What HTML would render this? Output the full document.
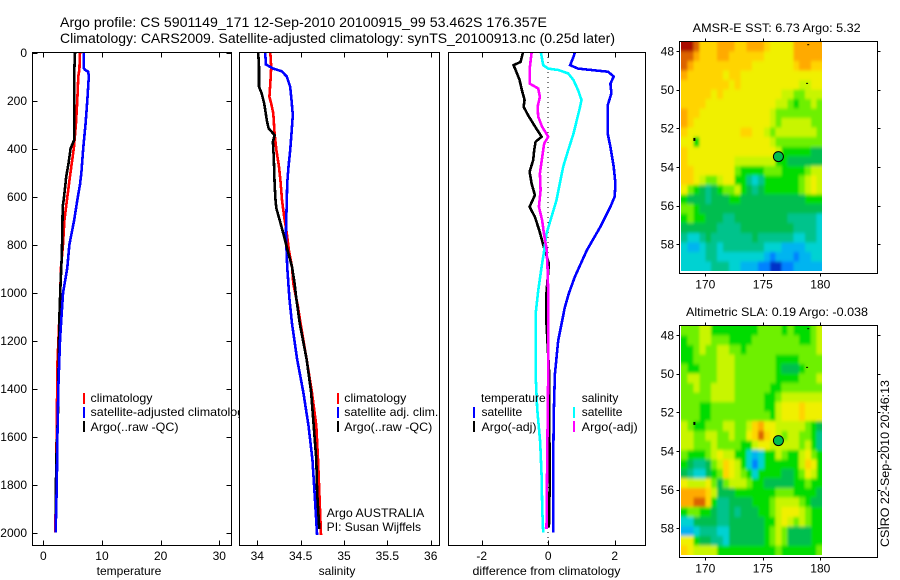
<!DOCTYPE html>
<html>
<head>
<meta charset="utf-8">
<title>Argo profile</title>
<style>
html,body{margin:0;padding:0;background:#fff;width:900px;height:580px;overflow:hidden}
svg{display:block}
text{font-family:"Liberation Sans",sans-serif;font-size:12px;fill:#000}
</style>
</head>
<body>
<svg id="fig" xmlns="http://www.w3.org/2000/svg" width="900" height="580" viewBox="0 0 900 580">
<defs>
<filter id="map-soften" x="-10%" y="-10%" width="120%" height="120%"><feGaussianBlur stdDeviation="1.2 1.6"/></filter>
<clipPath id="sst-clip"><rect x="681" y="42" width="141" height="229"/></clipPath>
<clipPath id="sla-clip"><rect x="681" y="326" width="141" height="229"/></clipPath>
</defs>
<rect x="0" y="0" width="900" height="580" fill="#fff"/>
<text x="60" y="27" style="font-size:14px" textLength="487" lengthAdjust="spacingAndGlyphs">Argo profile: CS 5901149_171 12-Sep-2010 20100915_99 53.462S 176.357E</text>
<text x="60" y="43" style="font-size:14px" textLength="555" lengthAdjust="spacingAndGlyphs">Climatology: CARS2009. Satellite-adjusted climatology: synTS_20100913.nc (0.25d later)</text>

<g id="panel-temp">
<g id="temp-marks"></g>
<g>
<rect x="83" y="393" width="2" height="11" fill="#f00"/>
<rect x="83" y="407" width="2" height="11" fill="#00f"/>
<rect x="83" y="421" width="2" height="11" fill="#000"/>
<text x="90.5" y="402" textLength="62" lengthAdjust="spacingAndGlyphs">climatology</text>
<text x="90.5" y="416" textLength="160" lengthAdjust="spacingAndGlyphs">satellite-adjusted climatology</text>
<text x="90.5" y="431" textLength="88" lengthAdjust="spacingAndGlyphs">Argo(..raw -QC)</text>
</g>
<text x="129" y="575" text-anchor="middle">temperature</text>
</g>

<g id="panel-sal">
<rect x="239" y="50" width="202" height="498" fill="#fff"/>
<g id="sal-marks"></g>
<g>
<rect x="337" y="393" width="2" height="11" fill="#f00"/>
<rect x="337" y="407" width="2" height="11" fill="#00f"/>
<rect x="337" y="421" width="2" height="11" fill="#000"/>
<text x="344.3" y="402" textLength="62" lengthAdjust="spacingAndGlyphs">climatology</text>
<text x="344.3" y="416" textLength="94" lengthAdjust="spacingAndGlyphs">satellite adj. clim.</text>
<text x="344.3" y="431" textLength="88" lengthAdjust="spacingAndGlyphs">Argo(..raw -QC)</text>
</g>
<text x="326.7" y="517" textLength="97.6" lengthAdjust="spacingAndGlyphs">Argo AUSTRALIA</text>
<text x="326.7" y="531" textLength="94.3" lengthAdjust="spacingAndGlyphs">PI: Susan Wijffels</text>
<text x="337" y="575" text-anchor="middle">salinity</text>
</g>

<g id="panel-diff">
<g id="diff-marks"></g>
<g>
<rect x="473" y="407" width="2" height="11" fill="#00f"/>
<rect x="473" y="421" width="2" height="11" fill="#000"/>
<rect x="573" y="407" width="2" height="11" fill="#0ff"/>
<rect x="573" y="421" width="2" height="11" fill="#f0f"/>
<text x="481" y="402">temperature</text>
<text x="481.5" y="416">satellite</text>
<text x="481.5" y="431" textLength="55" lengthAdjust="spacingAndGlyphs">Argo(-adj)</text>
<text x="581.7" y="402">salinity</text>
<text x="581.7" y="416">satellite</text>
<text x="581.7" y="431" textLength="56" lengthAdjust="spacingAndGlyphs">Argo(-adj)</text>
</g>
<text x="546.5" y="575" text-anchor="middle" textLength="148" lengthAdjust="spacingAndGlyphs">difference from climatology</text>
</g>

<g id="panel-sst">
<text x="776.7" y="32" text-anchor="middle" textLength="168" lengthAdjust="spacingAndGlyphs">AMSR-E SST: 6.73 Argo: 5.32</text>
<g clip-path="url(#sst-clip)"><g id="sst-cells" filter="url(#map-soften)"></g></g>
</g>
<g id="panel-sla">
<text x="777" y="316" text-anchor="middle" textLength="182" lengthAdjust="spacingAndGlyphs">Altimetric SLA: 0.19 Argo: -0.038</text>
<g clip-path="url(#sla-clip)"><g id="sla-cells" filter="url(#map-soften)"></g></g>
</g>
<text transform="translate(889,547) rotate(-90)" textLength="167" lengthAdjust="spacingAndGlyphs">CSIRO 22-Sep-2010 20:46:13</text>
</svg>

<script>
// ---- tick labels ----
const depthTicks = [0, 200, 400, 600, 800, 1000, 1200, 1400, 1600, 1800, 2000];
const tempTicks = [0, 10, 20, 30];
const salTicks = [34, 34.5, 35, 35.5, 36];
const diffTicks = [-2, 0, 2];
const lonTicks = [170, 175, 180];
const latTicks = [48, 50, 52, 54, 56, 58];

// ---- temperature profiles ----
const tempClimDepth = [0, 70, 100, 200, 300, 400, 500, 600, 700, 800, 900, 1000, 1100, 1300, 1550, 2000];
const tempClimValues = [6.25, 6.15, 5.97, 5.8, 5.55, 5.2, 4.63, 4.1, 3.6, 3.35, 3.0, 2.9, 2.75, 2.4, 2.3, 2.05];
const tempSatDepth = [0, 65, 72, 80, 100, 200, 300, 400, 500, 550, 600, 700, 800, 900, 1000, 1100, 1200, 1400, 1600, 1800, 2000];
const tempSatValues = [6.9, 6.9, 7.1, 7.65, 7.75, 7.5, 7.2, 6.8, 6.5, 6.25, 5.9, 5.25, 4.45, 4.07, 3.38, 3.1, 2.85, 2.56, 2.4, 2.3, 2.1];
const tempArgoDepth = [0, 100, 365, 400, 462, 518, 600, 643, 837, 990, 1100, 1300, 1500, 1700, 1900, 2000];
const tempArgoValues = [5.4, 5.25, 5.25, 4.66, 4.3, 3.9, 3.55, 3.3, 3.17, 2.9, 2.75, 2.6, 2.5, 2.22, 2.1, 2.1];

// ---- salinity profiles ----
const salClimDepth = [0, 60, 130, 185, 212, 254, 338, 407, 476, 546, 615, 685, 754, 824, 893, 962, 1060, 1130, 1280, 1415, 1555, 1695, 1830, 2010];
const salClimValues = [34.15, 34.16, 34.15, 34.14, 34.16, 34.185, 34.2, 34.22, 34.25, 34.27, 34.285, 34.31, 34.34, 34.365, 34.4, 34.415, 34.47, 34.5, 34.57, 34.63, 34.68, 34.7, 34.715, 34.735];
const salSatDepth = [0, 50, 67, 78, 100, 143, 198, 260, 338, 407, 476, 546, 615, 754, 893, 1025, 1130, 1280, 1415, 1555, 1695, 1830, 2010];
const salSatValues = [34.09, 34.1, 34.185, 34.28, 34.34, 34.38, 34.395, 34.41, 34.395, 34.38, 34.36, 34.345, 34.34, 34.33, 34.345, 34.37, 34.4, 34.46, 34.53, 34.59, 34.635, 34.66, 34.69];
const salArgoDepth = [0, 60, 143, 170, 212, 282, 316, 344, 372, 440, 545, 615, 650, 700, 768, 824, 893, 962, 1025, 1130, 1280, 1415, 1555, 1695, 1830, 1985];
const salArgoValues = [34.01, 34.02, 34.02, 34.05, 34.08, 34.11, 34.13, 34.2, 34.18, 34.19, 34.2, 34.21, 34.22, 34.26, 34.31, 34.35, 34.4, 34.43, 34.45, 34.49, 34.57, 34.62, 34.65, 34.68, 34.69, 34.715];

// ---- difference profiles ----
const diffTempSatDepth = [0, 18, 53, 67, 76, 80, 100, 130, 170, 220, 338, 393, 476, 546, 600, 643, 726, 824, 935, 1004, 1062, 1200, 1340, 1485, 1695, 2000];
const diffTempSatValues = [0.8, 0.76, 0.66, 0.9, 1.5, 1.8, 1.97, 1.87, 1.9, 1.79, 1.79, 1.87, 1.97, 2.02, 2.0, 1.87, 1.57, 1.16, 0.8, 0.62, 0.5, 0.3, 0.2, 0.17, 0.15, 0.15];
const diffTempArgoDepth = [0, 39, 53, 80, 115, 157, 198, 226, 260, 303, 351, 372, 407, 448, 497, 546, 594, 643, 685, 740, 816, 879, 1000, 1130, 1340, 1555, 1750, 1980];
const diffTempArgoValues = [-0.76, -0.83, -1.04, -0.96, -0.86, -0.79, -0.71, -0.74, -0.61, -0.42, -0.2, -0.38, -0.42, -0.45, -0.56, -0.5, -0.4, -0.56, -0.4, -0.27, -0.12, 0.02, -0.05, -0.05, 0.03, 0.03, 0.05, 0.02];
const diffSalSatDepth = [0, 53, 67, 73, 87, 115, 157, 198, 226, 260, 338, 407, 476, 546, 615, 685, 754, 824, 893, 993, 1090, 1340, 1485, 1625, 1765, 1900, 2000];
const diffSalSatValues = [-0.22, -0.15, 0, 0.3, 0.6, 0.76, 0.9, 1.0, 0.96, 0.9, 0.76, 0.6, 0.45, 0.35, 0.25, 0.1, -0.05, -0.12, -0.2, -0.3, -0.38, -0.38, -0.33, -0.24, -0.2, -0.18, -0.15];
const diffSalArgoDepth = [0, 60, 130, 150, 185, 226, 268, 310, 351, 379, 435, 504, 574, 643, 700, 754, 816, 893, 1000, 1340, 1695, 1985];
const diffSalArgoValues = [-0.5, -0.55, -0.55, -0.3, -0.25, -0.32, -0.3, -0.18, 0, -0.12, -0.18, -0.25, -0.23, -0.28, -0.18, -0.13, -0.05, -0.02, 0, 0, -0.03, -0.05];

// ---- profile position and map extents ----
const profileLon = 176.357;
const profileLat = 53.462;
const mapLonRange = [167.96, 180.2];
const mapLatRange = [47.52, 59.38];
const specksLon = [169.05, 178.85, 178.95];
const specksLat = [52.55, 49.7, 47.7];

// ---- SST map levels (north to south, west to east) ----
const sstRows = [
[13,13,12,10,10,10,11,11,11,10,10,11,11,11,10,9,9,9,9,11,11,11,11,11],
[12,12,11,10,10,10,11,11,10,10,10,10,10,10,9,9,9,9,9,11,11,11,11,11],
[12,11,10,10,10,10,10,10,10,10,10,10,9,9,9,9,9,9,9,10,11,11,10,10],
[11,10,10,10,10,10,10,9,10,10,9,9,9,9,9,9,9,9,9,9,9,9,9,9],
[10,10,10,10,10,10,10,10,9,10,9,9,9,9,9,9,9,9,9,9,8,8,9,9],
[10,10,10,10,10,9,10,9,9,9,9,9,9,9,9,9,9,8,8,7,7,8,8,8],
[10,10,10,10,9,9,9,9,9,9,9,9,9,9,9,9,8,8,7,6,7,7,8,7],
[11,10,10,9,9,9,9,9,9,9,9,9,9,9,9,8,7,7,7,7,7,7,7,7],
[11,10,9,9,9,9,9,9,9,9,9,9,9,9,9,8,7,8,8,8,8,8,7,7],
[10,9,9,9,9,9,9,9,9,9,10,10,9,9,8,7,8,8,8,8,8,8,8,7],
[9,9,6,9,9,9,9,9,9,9,9,9,9,9,9,8,7,7,7,7,7,7,7,7],
[10,9,9,9,9,9,9,9,9,9,9,9,9,9,9,9,8,6,6,6,6,6,5,5],
[10,9,9,9,9,9,9,9,9,8,8,8,8,8,8,8,6,6,5,5,5,5,5,5],
[10,10,9,9,9,9,9,9,9,7,6,6,6,6,7,7,7,6,6,6,6,7,8,8],
[10,10,9,8,7,7,8,9,9,6,6,4,3,4,6,6,6,6,6,6,7,8,9,8],
[9,7,6,5,4,5,6,7,7,8,6,5,4,5,6,6,6,6,6,6,7,8,9,8],
[6,5,5,5,4,5,5,5,6,6,5,5,5,5,5,5,5,5,5,5,5,6,6,6],
[7,7,6,5,5,5,5,5,5,5,5,5,5,5,5,5,5,5,5,5,5,5,5,5],
[6,7,6,6,5,5,5,4,4,5,5,5,5,5,5,5,5,5,4,4,4,4,4,3],
[5,5,5,5,5,5,4,4,4,4,5,5,5,5,5,5,5,5,5,4,4,4,4,3],
[4,3,3,4,5,4,4,4,4,4,4,4,5,4,4,4,4,4,4,3,3,4,4,3],
[3,2,2,3,4,4,3,4,4,4,4,4,4,4,3,3,3,2,2,2,2,3,3,3],
[3,3,3,3,4,4,3,3,3,3,3,3,3,3,2,1,2,2,2,1,2,2,3,3],
[3,3,3,3,3,4,4,4,3,3,2,2,2,1,1,0,0,1,1,2,2,2,2,2]
];

// ---- SLA map levels (north to south, west to east) ----
const slaRows = [
[7,7,7,8,8,6,6,6,6,6,6,6,6,7,7,7,7,6,7,6,6,6,7,8],
[6,7,7,8,8,7,7,7,6,6,6,6,7,7,7,7,7,7,7,7,6,6,7,8],
[6,6,7,8,7,7,8,8,7,7,6,7,7,7,7,7,7,7,7,7,7,7,7,8],
[6,6,7,7,7,7,8,8,8,7,7,7,7,7,7,7,6,6,6,6,7,7,7,7],
[7,6,6,7,7,7,8,8,8,7,7,7,7,7,7,7,6,5,5,5,6,7,7,7],
[7,8,8,7,7,7,8,8,8,7,7,7,7,7,7,7,6,6,6,6,7,7,7,8],
[7,7,8,7,7,8,8,8,8,7,7,7,7,7,7,6,6,7,7,7,7,7,7,7],
[7,7,7,7,7,8,8,8,8,7,7,7,7,7,6,6,7,8,8,8,8,8,8,8],
[7,7,7,6,6,7,7,7,7,7,7,7,7,7,6,6,8,9,9,9,10,9,9,9],
[7,7,7,6,6,7,7,7,7,7,7,7,7,7,7,6,8,9,9,9,10,9,9,9],
[8,7,6,6,7,7,7,8,8,7,7,8,10,11,9,9,8,8,8,8,8,7,6,5],
[8,8,7,7,8,8,7,7,8,7,7,9,10,12,10,9,8,7,8,8,7,7,6,4],
[8,8,7,7,7,8,7,7,7,7,6,6,8,9,9,8,8,8,8,8,7,8,6,4],
[7,6,6,6,7,8,9,8,8,6,6,3,2,3,6,6,8,7,6,6,8,9,7,6],
[6,5,4,4,5,7,8,10,9,8,6,3,1,3,6,6,6,6,6,6,8,10,9,6],
[5,4,3,3,5,6,7,10,9,8,7,6,3,6,6,6,6,5,5,6,7,9,8,6],
[9,8,8,8,9,7,5,7,8,8,8,7,6,6,5,5,5,5,5,6,6,7,6,6],
[11,11,11,11,10,8,5,5,5,6,6,6,6,6,6,6,7,7,7,6,6,6,6,5],
[11,11,12,12,10,6,4,4,5,5,5,5,6,6,6,7,8,8,8,8,7,6,5,5],
[6,7,7,6,6,5,4,4,5,4,5,5,5,6,6,7,8,9,9,9,8,7,6,6],
[3,3,5,5,5,5,4,4,5,5,5,5,5,5,6,6,8,9,8,7,8,7,6,6],
[2,2,3,4,4,4,3,3,5,5,5,5,5,5,6,7,8,7,5,5,5,5,6,6],
[9,9,6,5,5,4,4,3,5,5,5,5,5,5,6,7,8,7,5,5,5,5,6,6],
[10,9,8,8,8,8,6,6,6,6,6,6,6,6,6,6,7,6,6,6,6,6,6,7]
];

const SVGNS = 'http://www.w3.org/2000/svg';
const palette = ['rgb(0,50,200)','rgb(0,130,255)','rgb(0,180,240)','rgb(0,210,210)','rgb(0,195,140)','rgb(0,190,80)','rgb(0,220,0)','rgb(110,240,0)','rgb(200,245,0)','rgb(240,240,0)','rgb(255,212,0)','rgb(255,170,0)','rgb(220,100,0)','rgb(170,15,0)'];
function levelColor(v) {
  const i = Math.max(0, Math.min(palette.length - 1, Math.round(v)));
  return palette[i];
}
function linear(d0, d1, r0, r1) {
  return function (v) { return r0 + (v - d0) * (r1 - r0) / (d1 - d0); };
}
function make(parent, tag, attrs, txt) {
  const el = document.createElementNS(SVGNS, tag);
  for (const k in attrs) el.setAttribute(k, attrs[k]);
  if (txt !== undefined) el.textContent = txt;
  parent.appendChild(el);
  return el;
}

const depthY = linear(0, 2000, 52.5, 532.5);
const tempX = linear(0, 30, 43.3, 219.3);
const salX = linear(34, 36, 257.3, 430.7);
const diffX = linear(-2, 2, 481.7, 614.7);

function drawProfile(parent, depths, values, xScale, color, name) {
  const pts = depths.map(function (d, i) { return xScale(values[i]).toFixed(1) + ',' + depthY(d).toFixed(1); }).join(' ');
  const line = make(parent, 'polyline', { points: pts, fill: 'none', stroke: color, 'stroke-width': 2.6, 'shape-rendering': 'crispEdges' });
  
  
}

function drawPlotAxes(parent, box, xScale, xTicks, withDepthTicks, prefix) {
  const frame = make(parent, 'rect', { x: box.l, y: box.t, width: box.r - box.l, height: box.b - box.t, fill: 'none', stroke: '#000', 'stroke-width': 1, 'shape-rendering': 'crispEdges' });
  
  
  xTicks.forEach(function (t) {
    const x = Math.round(xScale(t)) + 0.5;
    const tick = make(parent, 'path', { d: 'M' + x + ' ' + box.t + 'v5M' + x + ' ' + box.b + 'v-5', stroke: '#000', fill: 'none', 'shape-rendering': 'crispEdges' });
    
    
    const label = make(parent, 'text', { x: xScale(t), y: 560, 'text-anchor': 'middle' }, String(t));
    
    
  });
  if (withDepthTicks) {
    depthTicks.forEach(function (t) {
      const y = Math.round(depthY(t)) + 0.5;
      const tick = make(parent, 'path', { d: 'M' + box.l + ' ' + y + 'h5M' + box.r + ' ' + y + 'h-5', stroke: '#000', fill: 'none', 'shape-rendering': 'crispEdges' });
      
      
      const label = make(parent, 'text', { x: 27, y: depthY(t) + 4.3, 'text-anchor': 'end' }, String(t));
      
      
    });
  }
}

function drawMap(parentId, cellsId, rows, boxTop, boxBottom, lat48Y, prefix) {
  const parent = document.getElementById(parentId);
  const cellGroup = document.getElementById(cellsId);
  const lonX = linear(170, 180, 705.3, 820.3);
  const latY = linear(48, 58, lat48Y, lat48Y + 193.3);
  const nRows = rows.length;
  const nCols = rows[0].length;
  const dLon = (mapLonRange[1] - mapLonRange[0]) / nCols;
  const dLat = (mapLatRange[1] - mapLatRange[0]) / nRows;
  const bleed = 10;
  rows.forEach(function (row, r) {
    row.forEach(function (v, c) {
      let x0 = lonX(mapLonRange[0] + c * dLon);
      let x1 = lonX(mapLonRange[0] + (c + 1) * dLon);
      let y0 = latY(mapLatRange[0] + r * dLat);
      let y1 = latY(mapLatRange[0] + (r + 1) * dLat);
      if (c === 0) x0 -= bleed;
      if (c === nCols - 1) x1 += bleed;
      if (r === 0) y0 -= bleed;
      if (r === nRows - 1) y1 += bleed;
      const cell = make(cellGroup, 'rect', { x: x0.toFixed(2), y: y0.toFixed(2), width: (x1 - x0 + 0.4).toFixed(2), height: (y1 - y0 + 0.4).toFixed(2), fill: levelColor(v), 'shape-rendering': 'crispEdges' });
      
      
    });
  });
  specksLon.forEach(function (lon, i) {
    const speck = make(parent, 'rect', { x: lonX(lon) - 1, y: latY(specksLat[i]) - 1, width: 2, height: i === 0 ? 3 : 1, fill: '#000' });
    
    
  });
  const frame = make(parent, 'rect', { x: 679.5, y: boxTop, width: 198, height: boxBottom - boxTop, fill: 'none', stroke: '#000', 'shape-rendering': 'crispEdges' });
  
  
  lonTicks.forEach(function (t) {
    const x = Math.round(lonX(t)) + 0.5;
    const tick = make(parent, 'path', { d: 'M' + x + ' ' + boxTop + 'v-3M' + x + ' ' + boxBottom + 'v3', stroke: '#000', fill: 'none', 'shape-rendering': 'crispEdges' });
    
    
    const label = make(parent, 'text', { x: lonX(t), y: boxBottom + 15, 'text-anchor': 'middle' }, String(t));
    
    
  });
  latTicks.forEach(function (t) {
    const y = Math.round(latY(t)) + 0.5;
    const tick = make(parent, 'path', { d: 'M679.5 ' + y + 'h-3M877.5 ' + y + 'h3', stroke: '#000', fill: 'none', 'shape-rendering': 'crispEdges' });
    
    
    const label = make(parent, 'text', { x: 674, y: latY(t) + 4.3, 'text-anchor': 'end' }, String(t));
    
    
  });
  const marker = make(parent, 'circle', { cx: lonX(profileLon), cy: latY(profileLat), r: 5, fill: 'rgb(0,190,80)', stroke: '#000', 'stroke-width': 1 });
  
  
}

// Temperature panel
const tempMarks = document.getElementById('temp-marks');
drawProfile(tempMarks, tempClimDepth, tempClimValues, tempX, '#f00', 'temperature-climatology-line');
drawProfile(tempMarks, tempArgoDepth, tempArgoValues, tempX, '#000', 'temperature-argo-line');
drawProfile(tempMarks, tempSatDepth, tempSatValues, tempX, '#00f', 'temperature-satellite-line');
drawPlotAxes(document.getElementById('panel-temp'), { l: 32.5, r: 231.5, t: 52.5, b: 545.5 }, tempX, tempTicks, true, 'temperature');

// Salinity panel
const salMarks = document.getElementById('sal-marks');
drawProfile(salMarks, salClimDepth, salClimValues, salX, '#f00', 'salinity-climatology-line');
drawProfile(salMarks, salSatDepth, salSatValues, salX, '#00f', 'salinity-satellite-line');
drawProfile(salMarks, salArgoDepth, salArgoValues, salX, '#000', 'salinity-argo-line');
drawPlotAxes(document.getElementById('panel-sal'), { l: 239.5, r: 439.5, t: 52.5, b: 545.5 }, salX, salTicks, false, 'salinity');

// Difference panel
const diffMarks = document.getElementById('diff-marks');
const zeroLine = make(diffMarks, 'line', { x1: diffX(0), x2: diffX(0), y1: 52, y2: 546, stroke: '#000', 'stroke-width': 1, 'stroke-dasharray': '1 4', 'shape-rendering': 'crispEdges' });


drawProfile(diffMarks, diffTempSatDepth, diffTempSatValues, diffX, '#00f', 'difference-temperature-satellite-line');
drawProfile(diffMarks, diffTempArgoDepth, diffTempArgoValues, diffX, '#000', 'difference-temperature-argo-line');
drawProfile(diffMarks, diffSalSatDepth, diffSalSatValues, diffX, '#0ff', 'difference-salinity-satellite-line');
drawProfile(diffMarks, diffSalArgoDepth, diffSalArgoValues, diffX, '#f0f', 'difference-salinity-argo-line');
drawPlotAxes(document.getElementById('panel-diff'), { l: 448.5, r: 645.5, t: 52.5, b: 545.5 }, diffX, diffTicks, false, 'difference');

// Maps
drawMap('panel-sst', 'sst-cells', sstRows, 41.5, 273.5, 51, 'sst');
drawMap('panel-sla', 'sla-cells', slaRows, 325.5, 557.5, 335, 'sla');
</script>
</body>
</html>
